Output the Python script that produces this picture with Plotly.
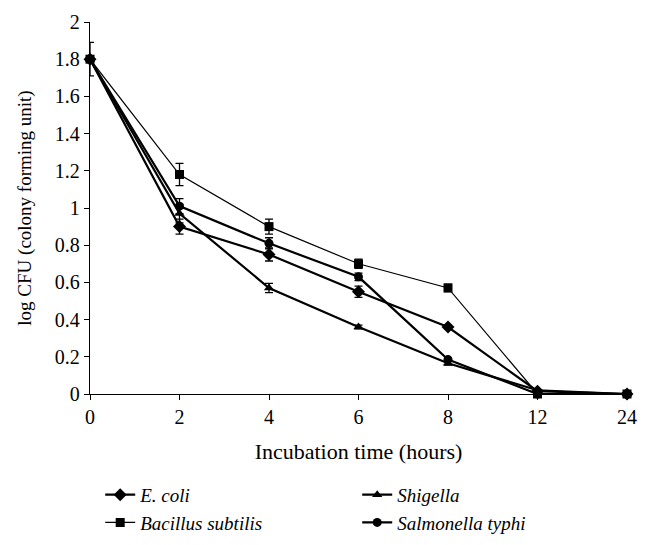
import plotly.graph_objects as go

hours = ["0", "2", "4", "6", "8", "12", "24"]

ecoli = [1.80, 0.90, 0.75, 0.55, 0.36, 0.015, 0.0]
ecoli_err = [0.0, 0.04, 0.035, 0.03, 0.01, 0.0, 0.0]

bacillus = [1.80, 1.18, 0.90, 0.70, 0.57, 0.0, 0.0]
bacillus_err = [0.09, 0.06, 0.04, 0.025, 0.02, 0.0, 0.0]

shigella = [1.80, 0.97, 0.57, 0.36, 0.165, 0.02, 0.0]
shigella_err = [0.0, 0.05, 0.025, 0.01, 0.01, 0.0, 0.0]

salmonella = [1.80, 1.01, 0.81, 0.63, 0.185, 0.0, 0.0]
salmonella_err = [0.0, 0.04, 0.03, 0.02, 0.01, 0.0, 0.0]

series = [
    ("E. coli", ecoli, ecoli_err, "diamond", 10, 2.2, 1),
    ("Bacillus subtilis", bacillus, bacillus_err, "square", 9, 1.2, 3),
    ("Shigella", shigella, shigella_err, "triangle-up", 9, 2.2, 2),
    ("Salmonella typhi", salmonella, salmonella_err, "circle", 9, 2.2, 4),
]

fig = go.Figure()
for name, vals, errs, sym, size, lw, rank in series:
    fig.add_trace(go.Scatter(
        x=hours, y=vals, name=name, mode="lines+markers",
        line=dict(color="black", width=lw),
        marker=dict(symbol=sym, size=size, color="black"),
        error_y=dict(type="data", array=errs, visible=True,
                     color="black", thickness=1.3, width=4),
        cliponaxis=False, legendrank=rank,
    ))

font_family = "Liberation Serif, DejaVu Serif, serif"

fig.update_layout(
    width=654, height=545,
    margin=dict(l=82, r=35, t=14, b=159, autoexpand=False),
    plot_bgcolor="white", paper_bgcolor="white",
    font=dict(family=font_family, size=20, color="black"),
    showlegend=True,
    legend=dict(
        orientation="h", x=0.019, xanchor="left", y=-0.22, yanchor="top",
        entrywidth=212, entrywidthmode="pixels",
        font=dict(family=font_family, size=19, style="italic"),
        bgcolor="rgba(0,0,0,0)",
    ),
    xaxis=dict(
        type="category", categoryorder="array", categoryarray=hours,
        range=[0, 6], showgrid=False, zeroline=False,
        showline=True, linecolor="black", linewidth=1.3,
        ticks="outside", ticklen=5, tickcolor="black", tickwidth=1.3,
        tickfont=dict(size=20),
        title=dict(text="Incubation time (hours)", font=dict(size=22), standoff=16),
    ),
    yaxis=dict(
        range=[0, 2], dtick=0.2, tickformat="~g", showgrid=False, zeroline=False,
        showline=True, linecolor="black", linewidth=1.3,
        ticks="outside", ticklen=5, tickcolor="black", tickwidth=1.3,
        tickfont=dict(size=20),
        title=dict(text="log CFU (colony forming unit)", font=dict(size=19), standoff=18),
    ),
)

fig.write_html("out.html")
